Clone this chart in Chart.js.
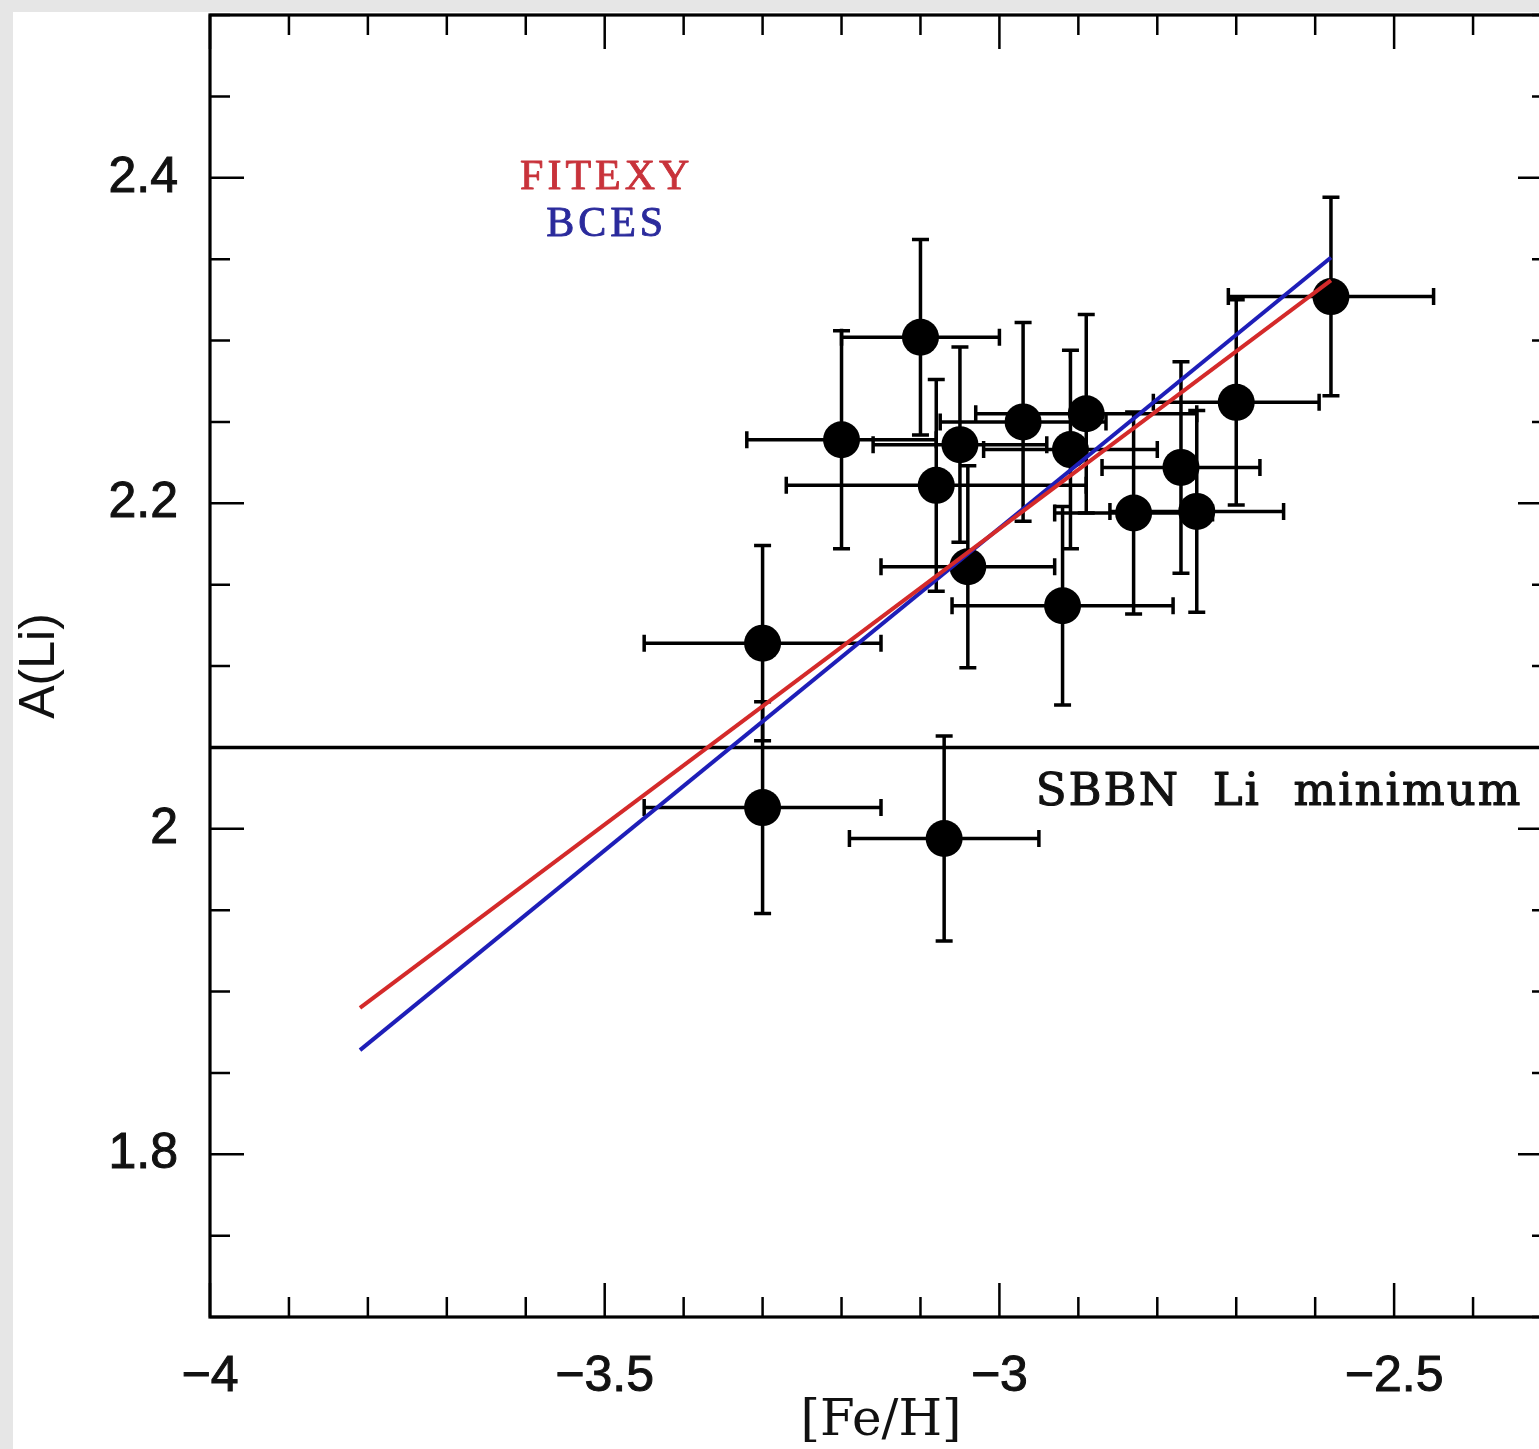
<!DOCTYPE html>
<html>
<head>
<meta charset="utf-8">
<script src="https://cdn.jsdelivr.net/npm/chart.js@4.4.1/dist/chart.umd.min.js"></script>
<style>
  html, body { margin: 0; padding: 0; width: 1539px; height: 1449px; overflow: hidden; background: #e6e6e6; }
  #wrap { position: absolute; left: 13px; top: 12px; }
  canvas { display: block; }
</style>
</head>
<body>
<div id="wrap"><canvas id="c" width="1557" height="1437"></canvas></div>
<script>
// Stellar metallicities [Fe/H] and their uncertainties
const feH    = [-3.30, -3.30, -3.07, -3.20, -3.10, -3.08, -3.05, -3.04, -2.97, -2.91, -2.89, -2.92, -2.83, -2.77, -2.75, -2.70, -2.58];
const feHErr = [0.15, 0.15, 0.12, 0.12, 0.10, 0.19, 0.11, 0.11, 0.105, 0.11, 0.14, 0.14, 0.10, 0.10, 0.11, 0.105, 0.13];
// Lithium abundances A(Li) and their uncertainties
const aLi    = [2.114, 2.013, 1.994, 2.239, 2.302, 2.211, 2.236, 2.161, 2.250, 2.233, 2.255, 2.137, 2.194, 2.222, 2.195, 2.262, 2.327];
const aLiErr = [0.060, 0.065, 0.063, 0.067, 0.060, 0.065, 0.060, 0.062, 0.061, 0.061, 0.061, 0.061, 0.062, 0.065, 0.062, 0.063, 0.061];

// Linear fits, evaluated at the ends of the fitted [Fe/H] range
const fitFeH   = [-3.81, -2.58];
const fitexyLi = [1.890, 2.337];
const bcesLi   = [1.864, 2.351];

// Standard BBN lithium lower limit
const sbbnMin = 2.05;

// Axis ranges and labelled ticks
const xRange = [-4, -2.3];
const yRange = [1.7, 2.5];
const xTicks = [-4, -3.5, -3, -2.5];
const yTicks = [1.8, 2, 2.2, 2.4];
const xMinorStep = 0.1;
const yMinorStep = 0.05;

const fmt = v => (v < 0 ? '\u2212' + String(Math.abs(v)) : String(v));

function steps(min, max, step) {
  const out = [];
  for (let k = Math.ceil(min / step - 1e-6); k * step <= max + 1e-9; k++) out.push(+(k * step).toFixed(4));
  return out;
}
const isMajor = (v, list) => list.some(t => Math.abs(t - v) < 1e-6);

function label(ctx, text, px, py, color, width) {
  ctx.fillStyle = color;
  ctx.strokeStyle = color;
  ctx.lineWidth = width;
  ctx.strokeText(text, px, py);
  ctx.fillText(text, px, py);
}

const decorations = {
  id: 'decorations',
  beforeDraw(chart) {
    const ctx = chart.ctx;
    ctx.save();
    ctx.fillStyle = '#ffffff';
    ctx.fillRect(0, 0, chart.width, chart.height);
    ctx.restore();
  },
  beforeDatasetsDraw(chart) {
    // error bars with end caps
    const { ctx, scales: { x, y } } = chart;
    const cap = 8.5;
    ctx.save();
    ctx.strokeStyle = '#000';
    ctx.lineWidth = 3.5;
    for (let i = 0; i < feH.length; i++) {
      const px = x.getPixelForValue(feH[i]);
      const py = y.getPixelForValue(aLi[i]);
      const x0 = x.getPixelForValue(feH[i] - feHErr[i]);
      const x1 = x.getPixelForValue(feH[i] + feHErr[i]);
      const y0 = y.getPixelForValue(aLi[i] - aLiErr[i]);
      const y1 = y.getPixelForValue(aLi[i] + aLiErr[i]);
      ctx.beginPath();
      ctx.moveTo(x0, py); ctx.lineTo(x1, py);
      ctx.moveTo(x0, py - cap); ctx.lineTo(x0, py + cap);
      ctx.moveTo(x1, py - cap); ctx.lineTo(x1, py + cap);
      ctx.moveTo(px, y0); ctx.lineTo(px, y1);
      ctx.moveTo(px - cap, y0); ctx.lineTo(px + cap, y0);
      ctx.moveTo(px - cap, y1); ctx.lineTo(px + cap, y1);
      ctx.stroke();
    }
    ctx.restore();
  },
  afterDraw(chart) {
    const { ctx, chartArea: a, scales: { x, y } } = chart;
    ctx.save();
    // inward ticks on all four sides
    ctx.strokeStyle = '#000';
    ctx.lineWidth = 2.5;
    ctx.beginPath();
    steps(xRange[0], xRange[1], xMinorStep).forEach(v => {
      const p = x.getPixelForValue(v);
      const len = isMajor(v, xTicks) ? 34 : 20;
      ctx.moveTo(p, a.bottom); ctx.lineTo(p, a.bottom - len);
      ctx.moveTo(p, a.top); ctx.lineTo(p, a.top + len);
    });
    steps(yRange[0], yRange[1], yMinorStep).forEach(v => {
      const p = y.getPixelForValue(v);
      const len = isMajor(v, yTicks) ? 34 : 20;
      ctx.moveTo(a.left, p); ctx.lineTo(a.left + len, p);
      ctx.moveTo(a.right, p); ctx.lineTo(a.right - len, p);
    });
    ctx.stroke();
    // plot frame
    ctx.lineWidth = 3.2;
    ctx.strokeRect(a.left, a.top, a.right - a.left, a.bottom - a.top);

    // fit labels
    ctx.textAlign = 'center';
    ctx.textBaseline = 'middle';
    ctx.lineJoin = 'round';
    ctx.font = '42px "Liberation Serif", serif';
    ctx.letterSpacing = '4px';
    label(ctx, 'FITEXY', x.getPixelForValue(-3.5) + 2, y.getPixelForValue(2.40), '#c8323a', 0.9);
    label(ctx, 'BCES', x.getPixelForValue(-3.5) + 2, y.getPixelForValue(2.371), '#2a2a9c', 0.9);

    // SBBN label
    ctx.letterSpacing = '2px';
    ctx.textAlign = 'left';
    ctx.font = '45px "DejaVu Serif", serif';
    label(ctx, 'SBBN  Li  minimum', x.getPixelForValue(-2.954), y.getPixelForValue(2.022), '#111', 1.1);
    ctx.restore();
  }
};

const tickFont = { family: '"Liberation Sans", Arial, sans-serif', size: 50 };

const chart = new Chart(document.getElementById('c'), {
  type: 'scatter',
  data: {
    datasets: [
      {
        label: 'FITEXY',
        data: fitFeH.map((v, i) => ({ x: v, y: fitexyLi[i] })),
        showLine: true, borderColor: '#d42a2a', borderWidth: 4, pointRadius: 0, order: 0
      },
      {
        label: 'BCES',
        data: fitFeH.map((v, i) => ({ x: v, y: bcesLi[i] })),
        showLine: true, borderColor: '#1e1eb8', borderWidth: 4, pointRadius: 0, order: 0
      },
      {
        label: 'stars',
        data: feH.map((v, i) => ({ x: v, y: aLi[i] })),
        backgroundColor: '#000', borderWidth: 0, pointRadius: 18.5, order: 1
      },
      {
        label: 'SBBN Li minimum',
        data: xRange.map(v => ({ x: v, y: sbbnMin })),
        showLine: true, borderColor: '#000', borderWidth: 3.5, pointRadius: 0, order: 2
      }
    ]
  },
  options: {
    responsive: false,
    devicePixelRatio: 1,
    animation: false,
    events: [],
    layout: { autoPadding: false, padding: { left: 0, top: 3, right: 18, bottom: 0 } },
    plugins: { legend: { display: false }, tooltip: { enabled: false } },
    scales: {
      x: {
        type: 'linear', min: xRange[0], max: xRange[1],
        grid: { display: false, drawTicks: false },
        border: { display: false },
        afterBuildTicks: s => { s.ticks = xTicks.map(v => ({ value: v })); },
        afterFit: s => { s.height = 132; s.paddingLeft = 0; s.paddingRight = 0; s.paddingTop = 0; s.paddingBottom = 0; },
        ticks: {
          callback: v => fmt(v), padding: 30, maxRotation: 0, autoSkip: false,
          color: '#111', textStrokeColor: '#111', textStrokeWidth: 1, font: tickFont
        },
        title: {
          display: true, text: '[Fe/H]', color: '#111',
          font: { family: '"DejaVu Serif", serif', size: 50, lineHeight: 1 },
          padding: { top: 0, bottom: 2 }
        }
      },
      y: {
        type: 'linear', min: yRange[0], max: yRange[1],
        grid: { display: false, drawTicks: false },
        border: { display: false },
        afterBuildTicks: s => { s.ticks = yTicks.map(v => ({ value: v })); },
        afterFit: s => { s.width = 197; s.paddingLeft = 0; s.paddingRight = 0; s.paddingTop = 0; s.paddingBottom = 0; },
        ticks: {
          callback: v => fmt(v), padding: 32, autoSkip: false,
          color: '#111', textStrokeColor: '#111', textStrokeWidth: 1, font: tickFont
        },
        title: {
          display: true, text: 'A(Li)', color: '#111',
          font: { family: '"Liberation Sans", Arial, sans-serif', size: 50, lineHeight: 1 },
          padding: { top: 2, bottom: 0 }
        }
      }
    }
  },
  plugins: [decorations]
});
</script>
</body>
</html>
